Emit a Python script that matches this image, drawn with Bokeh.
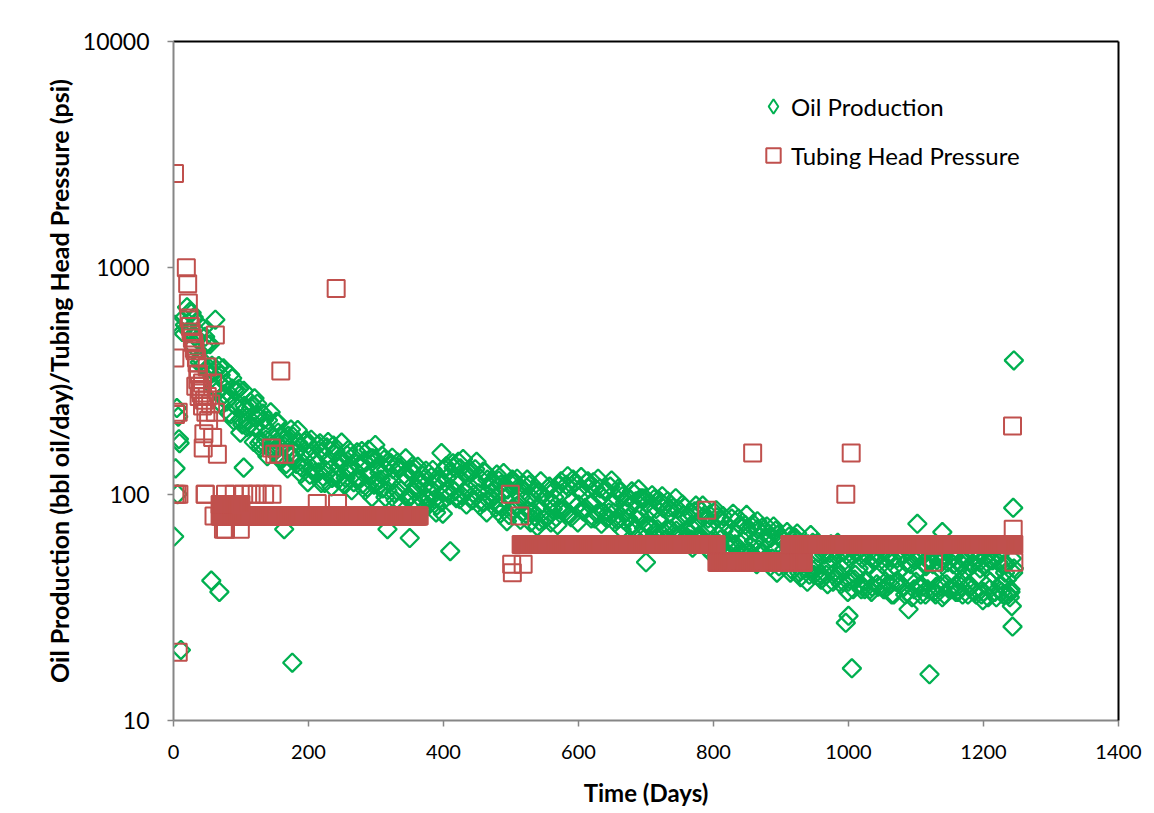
import math
from bokeh.plotting import figure
from bokeh.models import (FixedTicker, CustomJSTickFormatter, Legend, LegendItem,
                          LinearAxis, LogAxis, ColumnDataSource, Range1d)
from bokeh.embed import file_html
from bokeh.resources import INLINE

# ---------------- data ----------------
# Oil production, early scattered days
oil_early_days = [1, 2, 3, 5, 6, 7, 8, 9, 11, 13, 15, 17]
oil_early_vals = [65, 560, 130, 240, 100, 220, 175, 168, 20.5, 520, 600, 560]

# Oil production main band, readings every 5 days starting at day 20
oil_band_first_day = 20
oil_band_step = 5
oil_band_vals = [
    670, 522, 605, 485, 396, 452, 460, 340, 345, 286, 336, 276, 283, 225, 288, 240, 214, 246, 209, 241,
    198, 222, 172, 199, 212, 163, 175, 187, 145, 168, 181, 148, 151, 168, 131, 155, 167, 130, 142, 125,
    154, 128, 142, 118, 155, 131, 142, 118, 132, 147, 117, 134, 111, 138, 120, 144, 114, 124, 106, 128,
    112, 129, 104, 131, 112, 119, 97, 123, 105, 111, 121, 95, 102, 109, 89, 115, 102, 118, 107, 131,
    114, 130, 103, 120, 128, 100, 110, 117, 92, 116, 97, 105, 90, 110, 96, 105, 84, 111, 89, 97,
    104, 85, 97, 80, 102, 86, 96, 80, 92, 105, 86, 101, 83, 107, 93, 113, 90, 100, 87, 106,
    91, 106, 83, 98, 105, 83, 90, 97, 78, 98, 83, 89, 74, 93, 81, 96, 75, 84, 71, 86,
    77, 87, 70, 82, 87, 69, 76, 81, 65, 83, 70, 75, 64, 79, 69, 74, 61, 79, 63, 69,
    73, 61, 69, 57, 73, 62, 68, 55, 62, 70, 55, 62, 51, 64, 56, 66, 52, 57, 50, 59,
    51, 59, 46, 56, 60, 47, 51, 55, 44, 56, 48, 52, 43, 54, 47, 51, 41, 54, 44, 47,
    52, 41, 49, 39, 52, 44, 49, 41, 46, 52, 41, 46, 39, 50, 42, 52, 41, 46, 39, 48,
    43, 49, 39, 47, 51, 40, 45, 49, 39, 50, 42, 46, 39, 49, 43, 47, 37, 50, 41, 44,
    46, 40, 49, 42, 38, 47,
]

# Oil production main band, in-between readings every 5 days starting at day 22
oil_band2_first_day = 22
oil_band2_vals = [
    528, 633, 499, 515, 369, 496, 363, 369, 294, 368, 270, 309, 228, 293, 244, 292, 203, 237, 200, 247,
    216, 168, 227, 174, 188, 155, 209, 162, 181, 136, 161, 180, 136, 161, 137, 173, 122, 157, 136, 168,
    119, 161, 128, 164, 120, 142, 111, 149, 127, 113, 153, 117, 140, 107, 144, 110, 131, 116, 142, 104,
    137, 101, 138, 104, 122, 96, 128, 103, 132, 95, 109, 89, 119, 95, 113, 92, 129, 103, 124, 103,
    139, 99, 125, 105, 94, 129, 101, 92, 125, 94, 113, 87, 115, 88, 105, 81, 116, 88, 108, 83,
    82, 110, 84, 106, 76, 99, 79, 108, 86, 79, 110, 85, 110, 81, 116, 88, 105, 84, 113, 90,
    113, 82, 106, 83, 78, 108, 83, 77, 102, 77, 97, 72, 101, 77, 96, 71, 91, 72, 95, 70,
    92, 68, 93, 70, 65, 86, 67, 88, 69, 63, 84, 64, 84, 60, 78, 62, 83, 59, 77, 61,
    58, 78, 60, 78, 55, 73, 56, 72, 52, 57, 71, 52, 67, 52, 69, 48, 63, 49, 65, 46,
    64, 45, 60, 47, 44, 61, 47, 43, 59, 44, 55, 41, 57, 44, 41, 54, 42, 38, 55, 40,
    39, 54, 38, 51, 40, 54, 38, 52, 40, 36, 52, 40, 54, 37, 49, 38, 52, 36, 50, 38,
    51, 37, 53, 39, 36, 50, 38, 53, 37, 39, 51, 36, 49, 37, 52, 36, 49, 35, 51, 37,
    50, 37, 45, 36, 52,
]

# Oil production main band, further readings every 5 days starting at day 24
oil_band3_first_day = 24
oil_band3_vals = [
    640, 452, 578, 382, 540, 357, 460, 297, 355, 253, 360, 257, 337, 212, 287, 187, 286, 198, 255, 170,
    251, 160, 213, 147, 230, 153, 208, 141, 176, 130, 193, 142, 192, 123, 170, 113, 174, 124, 165, 112,
    112, 170, 108, 151, 116, 169, 110, 157, 104, 138, 117, 155, 104, 157, 97, 143, 108, 148, 97, 139,
    145, 94, 129, 90, 144, 97, 133, 92, 116, 85, 127, 95, 128, 83, 117, 82, 133, 99, 137, 96,
    95, 143, 90, 125, 95, 139, 89, 126, 83, 109, 93, 122, 82, 124, 76, 112, 85, 117, 77, 110,
    116, 75, 102, 72, 114, 77, 106, 75, 97, 73, 114, 86, 120, 79, 112, 75, 119, 85, 114, 78,
    78, 117, 74, 103, 79, 115, 75, 106, 70, 92, 78, 103, 70, 105, 65, 96, 72, 99, 66, 94,
    98, 63, 87, 61, 96, 65, 90, 62, 79, 58, 89, 66, 89, 58, 81, 54, 85, 60, 80, 54,
    54, 82, 52, 73, 55, 81, 52, 74, 49, 65, 55, 72, 48, 72, 45, 65, 50, 68, 45, 64,
    67, 43, 59, 41, 66, 44, 61, 42, 54, 40, 60, 45, 61, 40, 56, 37, 58, 42, 56, 38,
    38, 57, 37, 51, 39, 58, 38, 54, 36, 48, 41, 54, 36, 56, 35, 51, 39, 54, 36, 52,
    55, 36, 50, 35, 56, 38, 53, 37, 47, 36, 53, 40, 55, 36, 50, 34, 53, 38, 51, 35,
    54, 36, 49, 35, 45,
]

# Oil production outliers
oil_out_days = [56, 62, 68, 87, 104, 120, 164, 176, 299, 317, 350, 397, 410, 503, 700,
                865, 960, 996, 1000, 1005, 1089, 1102, 1120, 1139, 1240, 1242, 1243, 1244, 1245]
oil_out_vals = [41.5, 590, 37, 325, 131, 265, 70, 18, 165, 70, 64, 152, 56, 115, 50,
                76, 42, 27, 29, 17, 31, 74, 16, 68, 37, 32, 26, 87, 390]

# Tubing head pressure, individual readings
thp_days = [1.5, 2, 2, 3, 5, 7, 7, 8, 19, 21, 22, 23, 25, 26, 28, 29, 30, 31, 32, 33,
            34, 35, 36, 37, 38, 39, 40, 41, 43, 43, 44, 45, 46, 47, 47, 48, 50, 50, 52, 55,
            58, 58, 60, 62, 62, 65, 74, 77, 77, 90, 99, 104, 115, 124, 135, 145, 146, 150, 156, 159,
            165, 213, 241, 243, 499, 501, 502, 513, 518, 790, 858, 996, 1004, 1126, 1243, 1244, 1245]
thp_vals = [2610, 400, 100, 225, 100, 20, 230, 100, 1000, 850, 700, 600, 550, 520, 490, 470, 465, 440, 430, 300,
            400, 380, 320, 340, 270, 300, 290, 280, 310, 245, 160, 185, 260, 100, 100, 230, 365, 270, 212, 250,
            178, 310, 80, 505, 230, 150, 70, 70, 100, 100, 70, 100, 100, 100, 100, 160, 100, 150, 150, 350,
            150, 91, 811, 91, 100, 49, 45, 80, 49, 85, 152, 100, 152, 50, 200, 70, 50]

# Tubing head pressure plateaus: (first day, last day, psi), one reading per day
thp_plateaus = [(69, 364, 80), (69, 100, 90), (515, 804, 60), (805, 933, 50), (913, 1245, 60)]

x_ticks = [0, 200, 400, 600, 800, 1000, 1200, 1400]
y_ticks = [10, 100, 1000, 10000]

# ---------------- assemble sources ----------------
def band(first_day, vals):
    return [first_day + oil_band_step * i for i in range(len(vals))]

oil_days = (oil_early_days + band(oil_band_first_day, oil_band_vals)
            + band(oil_band2_first_day, oil_band2_vals)
            + band(oil_band3_first_day, oil_band3_vals) + oil_out_days)
oil_vals = oil_early_vals + oil_band_vals + oil_band2_vals + oil_band3_vals + oil_out_vals
assert len(oil_days) == len(oil_vals)
assert len(thp_days) == len(thp_vals)

p_days = list(thp_days)
p_vals = list(thp_vals)
for d0, d1, v in thp_plateaus:
    for d in range(d0, d1 + 1):
        p_days.append(d)
        p_vals.append(v)

oil_src = ColumnDataSource(dict(x=oil_days, y=oil_vals))
thp_src = ColumnDataSource(dict(x=p_days, y=p_vals))

GREEN = "#00B050"
RED = "#C0504D"
AXIS_GRAY = "#868686"
FONT = "Lato"

p = figure(width=1154, height=813,
           x_range=Range1d(0, 1400), y_range=Range1d(10, 10000),
           y_axis_type="log",
           output_backend="svg", toolbar_location=None,
           min_border_left=173, min_border_right=36,
           min_border_top=41, min_border_bottom=93)
p.outline_line_color = None
p.xgrid.visible = False
p.ygrid.visible = False
p.background_fill_color = "white"
p.border_fill_color = "white"

oil_r = p.scatter("x", "y", source=oil_src, marker="square", angle=math.pi / 4,
                  size=13, fill_color=None, line_color=GREEN, line_width=2.3)
thp_r = p.scatter("x", "y", source=thp_src, marker="square",
                  size=17, fill_color=None, line_color=RED, line_width=2)

# legend-only renderers (hidden in the plot; only their legend glyph is shown)
leg_oil = p.scatter("x", "y", source=oil_src, marker="diamond", visible=False,
                    fill_color=None, line_color=GREEN, line_width=2)
leg_thp = p.scatter("x", "y", source=thp_src, marker="square", visible=False,
                    fill_color=None, line_color=RED, line_width=2)

# axes
xa = p.xaxis[0]
xa.ticker = FixedTicker(ticks=x_ticks, minor_ticks=[])
xa.axis_label = "Time (Days)"
ya = p.yaxis[0]
ya.ticker = FixedTicker(ticks=y_ticks, minor_ticks=[])
ya.formatter = CustomJSTickFormatter(code="return tick.toFixed(0)")
ya.axis_label = "Oil Production (bbl oil/day)/Tubing Head Pressure (psi)"

for ax in (xa, ya):
    ax.axis_line_color = AXIS_GRAY
    ax.axis_line_width = 2
    ax.major_tick_line_color = AXIS_GRAY
    ax.major_tick_line_width = 1.5
    ax.major_tick_out = 6
    ax.major_tick_in = 0
    ax.minor_tick_line_color = None
    ax.major_label_text_font = FONT
    ax.major_label_text_color = "black"
    ax.axis_label_text_font = FONT
    ax.axis_label_text_font_style = "bold"
    ax.axis_label_text_color = "black"

xa.axis_label_text_font_size = "24px"
ya.axis_label_text_font_size = "25px"
xa.major_label_text_font_size = "20px"
xa.major_label_standoff = 18
xa.axis_label_standoff = 16
ya.major_label_text_font_size = "23px"
ya.major_label_standoff = 18
ya.axis_label_standoff = 6

# black frame on top / right
top = LinearAxis(ticker=FixedTicker(ticks=[]), major_label_text_font_size="0px",
                 axis_line_color="black", axis_line_width=2,
                 major_tick_line_color=None, minor_tick_line_color=None)
right = LogAxis(ticker=FixedTicker(ticks=[]), major_label_text_font_size="0px",
                axis_line_color="black", axis_line_width=2,
                major_tick_line_color=None, minor_tick_line_color=None)
p.add_layout(top, "above")
p.add_layout(right, "right")

legend = Legend(items=[LegendItem(label="Oil Production", renderers=[leg_oil]),
                       LegendItem(label="Tubing Head Pressure", renderers=[leg_thp])],
                location=(582, 547), orientation="vertical",
                border_line_color=None, background_fill_alpha=0,
                inactive_fill_alpha=0,
                padding=0, margin=0, spacing=13,
                glyph_width=36, glyph_height=36, label_height=36, label_standoff=0,
                label_text_font=FONT, label_text_font_size="24px", label_text_color="black")
p.add_layout(legend)

open("out.html", "w").write(file_html(p, INLINE))
